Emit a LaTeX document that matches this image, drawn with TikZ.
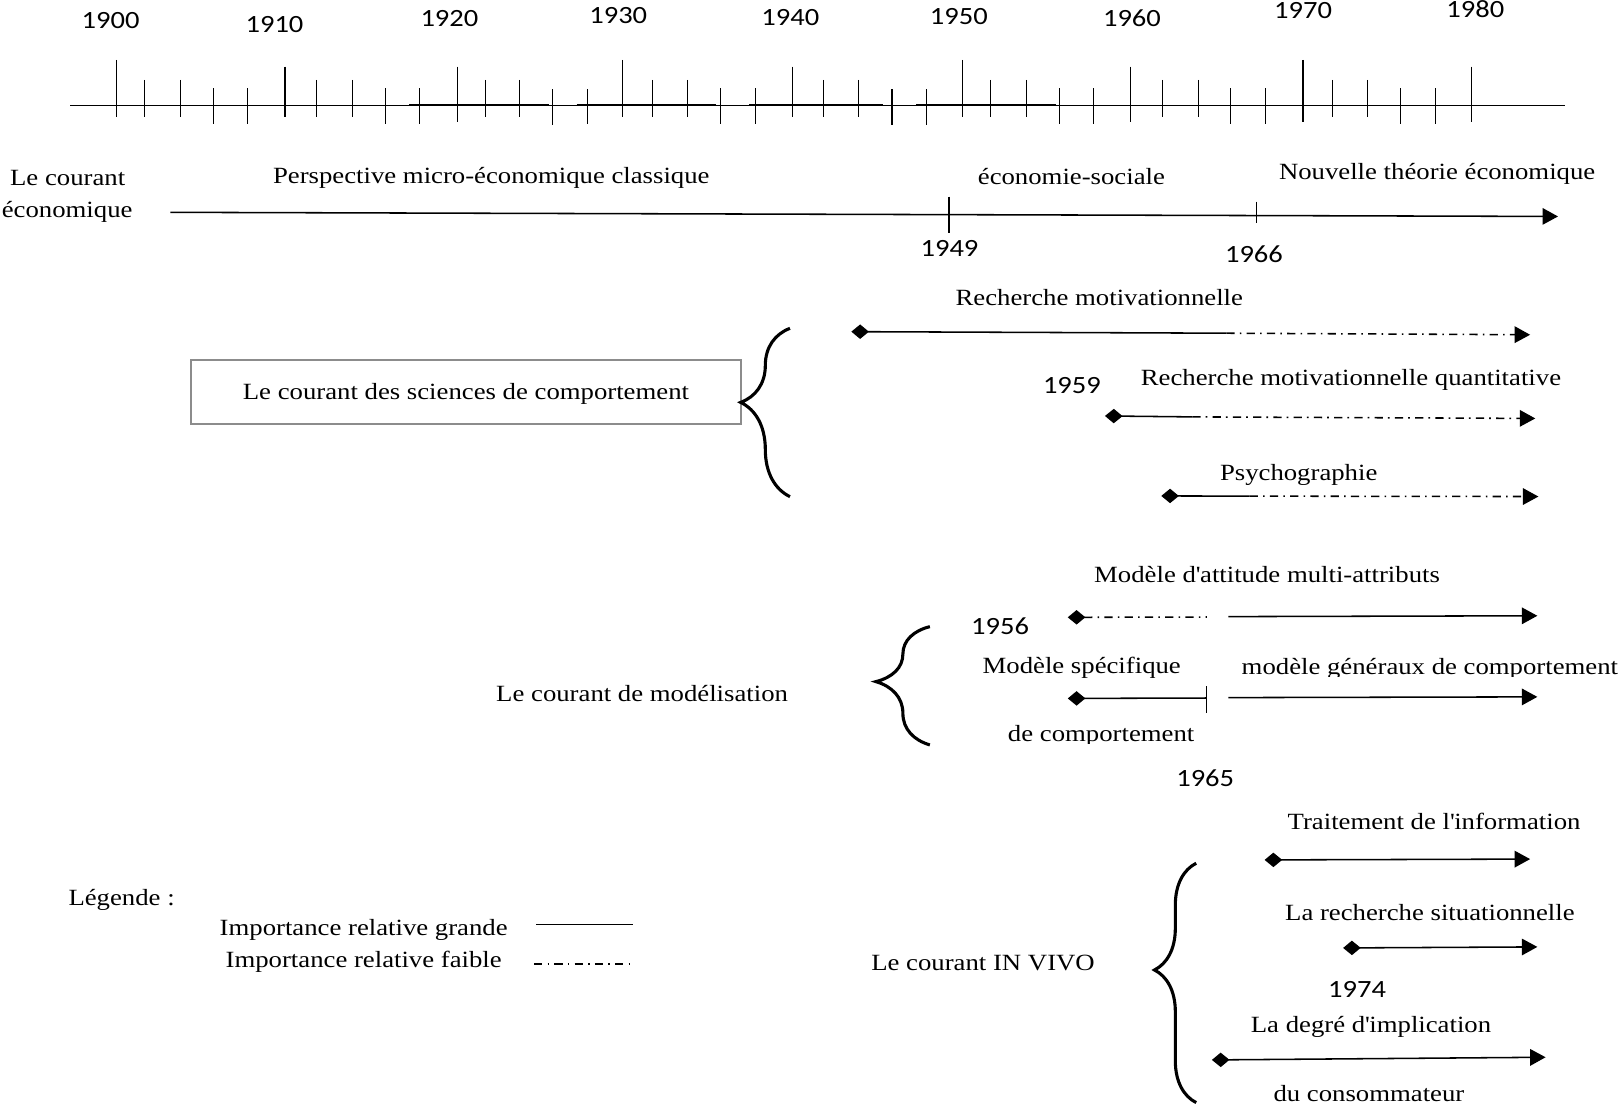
\documentclass[tikz,border=0pt]{standalone}
\usepackage{fontspec}
\setmainfont{Liberation Serif}[FakeStretch=1.15]
\newfontfamily\yearfont{Carlito}[FakeStretch=1.15]
\usetikzlibrary{arrows.meta,decorations.pathreplacing}
% straight apostrophe, kept out of the TeX quote mapping
\newcommand\apos{\XeTeXglyph\XeTeXcharglyph"27\relax}

\begin{document}
\begin{tikzpicture}[x=0.5pt,y=-0.5pt,
  txt/.style={font=\fontsize{11.25}{13}\selectfont, inner sep=0pt, text height=7.4pt, text depth=0pt},
  yr/.style={font=\yearfont\fontsize{12}{14}\selectfont, inner sep=0pt, text height=7.6pt, text depth=0pt},
  tickline/.style={line width=0.55pt},
  bar/.style={line width=0.75pt},
  faint/.style={bar, dash pattern=on 4pt off 2.5pt on 0.8pt off 2.5pt},
  startmark/.style={{Diamond[length=8.5pt,width=7pt]}-},
  endmark/.style={-{Triangle[length=7.5pt,width=8pt]}},
  bothmarks/.style={{Diamond[length=8.5pt,width=7pt]}-{Triangle[length=7.5pt,width=8pt]}},
  curly/.style={line width=1.5pt, decorate, decoration={brace, amplitude=#1}},
]
\useasboundingbox (0,0) rectangle (1568,1072);
\fill[white] (0,0) rectangle (1568,1072);

% ---------- chronological axis ----------
\coordinate (ax0) at (68,102);
\coordinate (ax1) at (1515,102);
\draw[tickline] (ax0) -- (ax1);
\foreach \a/\b in {396/531, 558/693, 725/855, 887/1022}
  \draw[line width=0.9pt] (\a,102) -- (\b,102);
% ticks: x / top / bottom
\foreach \x/\t/\b in {
  112.4/58/113.6, 140.2/77.4/113.6, 175.1/77.4/113.6, 206.5/85.5/120, 239.9/85.5/120,
  275.8/64.5/113.6, 306.2/77.4/113.6, 341.1/77.4/113.6, 373/85.5/120, 406.4/85.5/120,
  442.9/64.5/118, 469.7/77.4/113.6, 502.6/77.4/113.6, 535/86.5/121, 568.9/86.5/120,
  602.3/58/113.6, 631.2/77.4/113.6, 665.6/77.4/113.6, 697.5/85.5/120, 730.9/85.5/120,
  766.8/64.5/113.6, 797/77.4/113.6, 831/77.4/113.6, 863.4/86.5/121, 896.8/86.5/121,
  931.2/58/113.6, 959/77.4/113.6, 993.4/77.4/113.6, 1025.3/85.5/120, 1058.7/85.5/120,
  1094.1/64.5/118, 1125/77.4/113.6, 1159.9/77.4/113.6, 1191.2/85.5/120, 1224.6/85.5/120,
  1261.1/58/118, 1289.4/77.4/113.6, 1323.3/77.4/113.6, 1355.2/85.5/120, 1389.1/85.5/120,
  1424.5/64.5/118}
  \draw[tickline] (\x,\t) -- (\x,\b);

\node[yr] (y1900) at (107,20) {1900};
\node[yr] (y1910) at (265.7,23.5) {1910};
\node[yr] (y1920) at (435,18) {1920};
\node[yr] (y1930) at (598.4,15.5) {1930};
\node[yr] (y1940) at (765,17) {1940};
\node[yr] (y1950) at (928,16.5) {1950};
\node[yr] (y1960) at (1095.6,18.5) {1960};
\node[yr] (y1970) at (1261.3,10) {1970};
\node[yr] (y1980) at (1428,9) {1980};

% ---------- economic school ----------
\node[txt] (eco1) at (65.5,172.6) {Le courant};
\node[txt] (eco2) at (65,203) {économique};
\node[txt] (persp) at (475.5,170.5) {Perspective micro-économique classique};
\node[txt] (soc) at (1037,171) {économie-sociale};
\node[txt] (nte) at (1391,166.5) {Nouvelle théorie économique};
\coordinate (ecoS) at (165,205.5);
\coordinate (ecoE) at (1508,209.5);
\draw[bar,endmark] (ecoS) -- (ecoE);
\draw[tickline] (918.5,190.3) -- (918.5,225.8);
\draw[tickline] (1216,195.2) -- (1216,216.2);
\node[yr] (y1949) at (919,240.4) {1949};
\node[yr] (y1966) at (1213.7,246) {1966};

% ---------- behavioural sciences ----------
\node[txt, draw=black!45, line width=0.9pt, minimum width=266pt, minimum height=31.15pt] (sci) at (451,379.5) {Le courant des sciences de comportement};
\coordinate (br1a) at (764.6,480.7);
\coordinate (br1b) at (764.6,317.8);
\draw[curly=23.85pt, decoration={aspect=0.56}] (br1a) -- (br1b);

\node[txt] (rm) at (1064,288.6) {Recherche motivationnelle};
\coordinate (rmA) at (824,321);
\coordinate (rmB) at (1187,322.5);
\coordinate (rmC) at (1481,324);
\draw[bar,startmark] (rmA) -- (rmB);
\draw[faint,endmark] (rmB) -- (rmC);

\node[yr] (y1959) at (1037.5,373.5) {1959};
\node[txt] (rmq) at (1307.6,366) {Recherche motivationnelle quantitative};
\coordinate (rmqA) at (1069.5,402.6);
\coordinate (rmqB) at (1154,403.5);
\coordinate (rmqC) at (1486,405);
\draw[bar,startmark] (rmqA) -- (rmqB);
\draw[faint,endmark] (rmqB) -- (rmqC);

\node[txt] (psy) at (1257,458) {Psychographie};
\coordinate (psyA) at (1124,480);
\coordinate (psyB) at (1209.5,480.2);
\coordinate (psyC) at (1489,480.6);
\draw[bar,startmark] (psyA) -- (psyB);
\draw[faint,endmark] (psyB) -- (psyC);

% ---------- modelling ----------
\node[txt] (model) at (621.5,672) {Le courant de modélisation};
\coordinate (br2a) at (900,721);
\coordinate (br2b) at (900,606.5);
\draw[curly=26.1pt, decoration={aspect=0.535}] (br2a) -- (br2b);

\node[txt] (att) at (1226.4,556) {Modèle d\apos attitude multi-attributs};
\coordinate (attA) at (1033.5,597.5);
\coordinate (attB) at (1168,597.2);
\coordinate (attC) at (1189,596.8);
\coordinate (attD) at (1488,596);
\draw[faint,startmark] (attA) -- (attB);
\draw[bar,endmark] (attC) -- (attD);

\node[yr] (y1956) at (968,607) {1956};
\node[txt] (spec) at (1047,644.5) {Modèle spécifique};
\begin{scope}
  \clip (1150,600) rectangle (1568,655);
  \node[txt] (gen) at (1384,645) {modèle généraux de comportement};
\end{scope}
\coordinate (spA) at (1033.5,676);
\coordinate (spB) at (1168,675.6);
\coordinate (spC) at (1189,675.2);
\coordinate (spD) at (1488,674.5);
\draw[bar,startmark] (spA) -- (spB);
\draw[tickline] (1168,664) -- (1168,690.4);
\draw[bar,endmark] (spC) -- (spD);
\begin{scope}
  \clip (950,690) rectangle (1160,719.5);
  \node[txt] (decomp) at (1065.8,710) {de comportement};
\end{scope}
\node[yr] (y1965) at (1166.5,754) {1965};

% ---------- in vivo ----------
\node[txt] (invivo) at (951.5,932) {Le courant IN VIVO};
\coordinate (br3a) at (1157.8,1067.2);
\coordinate (br3b) at (1157.8,835.5);
\draw[curly=20.2pt, decoration={aspect=0.554}] (br3a) -- (br3b);

\node[txt] (trait) at (1388,795) {Traitement de l\apos information};
\coordinate (trA) at (1224,832.3);
\coordinate (trB) at (1481,831.5);
\draw[bar,bothmarks] (trA) -- (trB);

\node[txt] (situ) at (1384,883.5) {La recherche situationnelle};
\coordinate (siA) at (1300,917.5);
\coordinate (siB) at (1488,916.5);
\draw[bar,bothmarks] (siA) -- (siB);

\node[yr] (y1974) at (1313.5,958) {1974};
\node[txt] (impl) at (1327,991.5) {La degré d\apos implication};
\coordinate (imA) at (1173,1025.9);
\coordinate (imB) at (1496,1023.3);
\draw[bar,bothmarks] (imA) -- (imB);
\node[txt] (conso) at (1325,1059) {du consommateur};

% ---------- key ----------
\node[txt] (leg) at (117.7,869) {Légende :};
\node[txt] (grande) at (352,898) {Importance relative grande};
\node[txt] (faible) at (352,929) {Importance relative faible};
\coordinate (lgA) at (518.8,894.6);
\coordinate (lgB) at (612.7,894.6);
\draw[bar] (lgA) -- (lgB);
\coordinate (lfA) at (517,933);
\coordinate (lfB) at (610,933);
\draw[faint] (lfA) -- (lfB);
\end{tikzpicture}
\end{document}
